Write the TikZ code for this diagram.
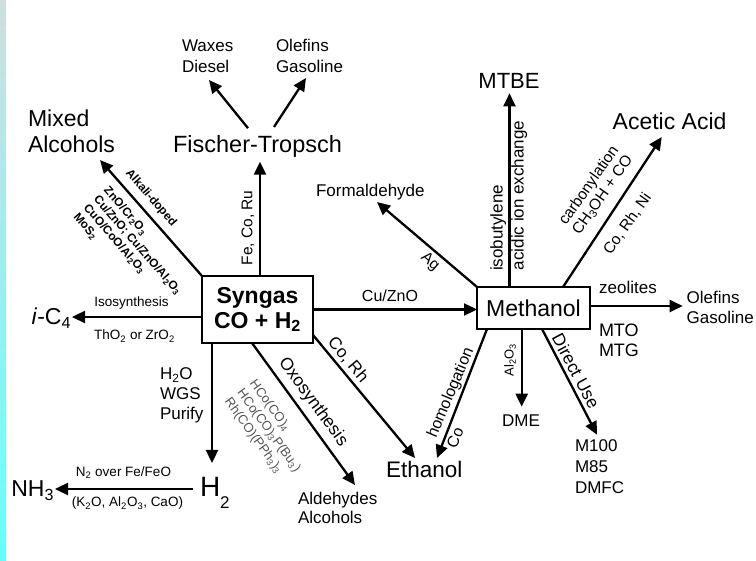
\documentclass[tikz,border=0pt]{standalone}
\usepackage{fontspec}
\setmainfont{Liberation Sans}
\usetikzlibrary{arrows.meta,calc}
\definecolor{stripTop}{RGB}{208,222,222}
\definecolor{stripBot}{RGB}{102,255,255}
\definecolor{catgrey}{RGB}{85,85,85}
\newcommand\tlft[1]{\begin{tabular}[t]{@{}l@{}}#1\end{tabular}}
\newcommand\sbx[1]{\textsubscript{#1}}
\begin{document}
\begin{tikzpicture}[x=1pt,y=-1pt,
 every node/.style={inner sep=0pt,outer sep=0pt},
 arr/.style={line width=2.3pt,-{Triangle[length=13pt,width=12pt]}},
 box/.style={draw,line width=1.3pt,fill=white},
 big/.style={font=\fontsize{23}{26}\selectfont},
 med/.style={font=\fontsize{17}{20.5}\selectfont},
 sml/.style={font=\fontsize{15.5}{16.6}\selectfont},
 xs/.style={font=\fontsize{13.5}{16}\selectfont},
 cat/.style={font=\bfseries\fontsize{11.8}{13.4}\selectfont},
 oxcat/.style={font=\fontsize{13}{15.5}\selectfont,text=catgrey},
]
\useasboundingbox (0,0) rectangle (756,561);
\fill[white] (0,0) rectangle (756,561);
\shade[top color=stripTop,bottom color=stripBot] (0,0) rectangle (6,561);

% main boxes
\node[box,font=\bfseries\fontsize{23}{25}\selectfont,align=center,minimum width=111pt,minimum height=67pt] (syn) at (257.5,309.5) {Syngas\\CO + H\sbx{2}};
\node[box,big,minimum width=113pt,minimum height=42pt] (meth) at (533.5,308) {Methanol};

% product texts
\node[anchor=base,font=\fontsize{23.5}{26}\selectfont] (ft) at (257.5,152.7) {Fischer-Tropsch};
\node[anchor=base west,font=\fontsize{17}{21}\selectfont] (waxes) at (182,52) {\tlft{Waxes\\Diesel}};
\node[anchor=base west,font=\fontsize{17}{21}\selectfont] (olefA) at (276,52) {\tlft{Olefins\\Gasoline}};
\node[anchor=base west,font=\fontsize{23}{26}\selectfont] (mixed) at (28,127) {\tlft{Mixed\\Alcohols}};
\node[anchor=base west,med] (form) at (316,197) {Formaldehyde};
\node[anchor=base,font=\fontsize{22}{26}\selectfont] (mtbe) at (509,88.3) {MTBE};
\node[anchor=base west,big] (acetic) at (612.7,130) {Acetic Acid};
\node[anchor=base west,big] (ic4) at (31.7,325) {\textit{i}-C\sbx{4}};
\node[anchor=base west,font=\fontsize{28}{30}\selectfont] (h2) at (200,496.7) {H\raisebox{-0.42em}{\fontsize{17}{17}\selectfont 2}};
\node[anchor=base east,big] (nh3) at (54,496.7) {NH\sbx{3}};
\node[anchor=base west,font=\fontsize{17}{18.5}\selectfont] (ald) at (298,505) {\tlft{Aldehydes\\Alcohols}};
\node[anchor=base west,font=\fontsize{22.5}{26}\selectfont] (eth) at (386,478) {Ethanol};
\node[anchor=base,med] (dme) at (521,426.7) {DME};
\node[anchor=base west,font=\fontsize{17}{20.8}\selectfont] (m100) at (575,451.7) {\tlft{M100\\M85\\DMFC}};
\node[anchor=base,med] (zeol) at (628,294) {zeolites};
\node[anchor=base west,font=\fontsize{17}{20}\selectfont] (olefB) at (686.7,303.3) {\tlft{Olefins\\Gasoline}};
\node[anchor=base west,font=\fontsize{18}{19.4}\selectfont] (mto) at (599,336.7) {\tlft{MTO\\MTG}};

% arrows
\draw[arr] ($(syn.north)+(2.5,0)$) -- ($(ft.base)+(2.5,9)$);
\draw[arr] ($(ft.base)+(-9.5,-24.5)$) -- ($(waxes.base west)+(27,28)$);
\draw[arr] ($(ft.base)+(16.5,-25.7)$) -- ($(olefA.base west)+(30,26)$);
\draw[arr] (syn.north west) -- ($(mixed.base west)+(72,33)$);
\draw[arr] ($(syn.west)+(0,7.5)$) -- ($(ic4.base west)+(40.3,-8)$);
\draw[arr] ($(syn.south west)+(10,0)$) -- ($(h2.base west)+(12,-33.7)$);
\draw[arr] ($(h2.base west)+(-7,-7.7)$) -- ($(nh3.base east)+(1,-7.7)$);
\draw[arr] ($(syn.south west)+(50,0)$) -- ($(ald.base west)+(57,-20)$);
\draw[arr] ($(syn.south east)+(0,-8)$) -- ($(eth.base west)+(29,-20)$);
\draw[arr] (syn.east) -- (syn.east -| meth.west);
\draw[arr] ($(meth.south west)+(10,0)$) -- ($(eth.base west)+(51,-20)$);
\draw[arr] (meth.north west) -- ($(form.base west)+(61,5)$);
\draw[arr] ($(meth.north west)+(32.5,0)$) -- ($(mtbe.base)+(0.5,5)$);
\draw[arr] ($(meth.north west)+(86,0)$) -- ($(acetic.base west)+(49,7)$);
\draw[arr] ($(meth.east)+(0,-2)$) -- ($(olefB.base west)+(-4,2.7)$);
\draw[arr] ($(meth.south west)+(44.7,0)$) -- ($(dme.base)+(0.7,-20)$);
\draw[arr] ($(meth.south west)+(65,0)$) -- ($(m100.base west)+(22,-17)$);

% connector labels
\node[sml,rotate=90] (fecoru) at (248,228) {Fe, Co, Ru};
\node[cat,rotate=-49] (alkali) at (151,198) {Alkali-doped};
\node[cat,rotate=-49,align=left] (mixcat) at (132.4,249.8) {ZnO/Cr\sbx{2}O\sbx{3}\\Cu/ZnO; Cu/ZnO/Al\sbx{2}O\sbx{3}\\CuO/CoO/Al\sbx{2}O\sbx{3}\\MoS\sbx{2}};
\node[xs,anchor=base] (iso) at (131.5,306.7) {Isosynthesis};
\node[xs,anchor=base] (thzr) at (134.5,340) {ThO\sbx{2} or ZrO\sbx{2}};
\node[anchor=base west,font=\fontsize{17}{20}\selectfont] (wgs) at (160,380) {\tlft{H\sbx{2}O\\WGS\\Purify}};
\node[xs,anchor=base] (n2) at (123.5,476.7) {N\sbx{2} over Fe/FeO};
\node[xs,anchor=base] (k2o) at (127.5,507) {(K\sbx{2}O, Al\sbx{2}O\sbx{3}, CaO)};
\node[font=\fontsize{17.5}{20}\selectfont,rotate=-54] (oxo) at (313,402) {Oxosynthesis};
\node[oxcat,rotate=-54,align=left] (hco) at (268.6,430.7) {HCo(CO)\sbx{4}\\HCo(CO)\sbx{3}P(Bu\sbx{3})\\Rh(CO)(PPh\sbx{3})\sbx{3}};
\node[med,rotate=-50] (corh) at (348,360) {Co, Rh};
\node[font=\fontsize{16}{18}\selectfont,anchor=base] (cuzno) at (390,302) {Cu/ZnO};
\node[sml,rotate=-41] (ag) at (430,262) {Ag};
\node[med,rotate=90] (isob) at (498.3,228) {isobutylene};
\node[med,rotate=90] (acid) at (519.3,195.5) {acidic ion exchange};
\node[sml,rotate=55,align=center] (carb) at (596,190.5) {carbonylation\\CH\sbx{3}OH + CO};
\node[sml,rotate=55] (corhni) at (627.5,224) {Co, Rh, Ni};
\node[font=\fontsize{13}{15}\selectfont,rotate=90] (alox) at (510,360) {Al\sbx{2}O\sbx{3}};
\node[font=\fontsize{17.5}{20}\selectfont,rotate=-62] (direct) at (576,371) {Direct Use};
\node[font=\fontsize{16}{18}\selectfont,rotate=67] (homol) at (451,393) {homologation};
\node[font=\fontsize{16}{18}\selectfont,rotate=67] (coh) at (455,438) {Co};
\end{tikzpicture}
\end{document}
